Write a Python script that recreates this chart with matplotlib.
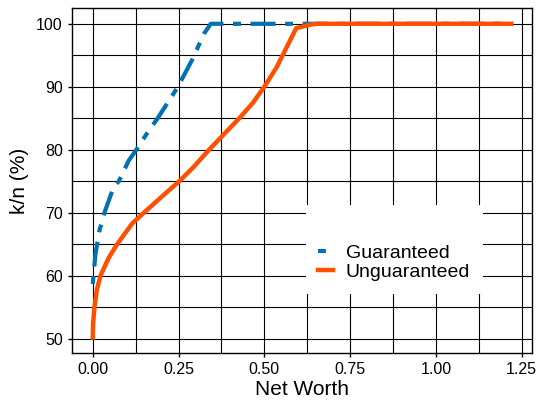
import numpy as np
import matplotlib
matplotlib.use('Agg')
import matplotlib.pyplot as plt
from matplotlib.ticker import MultipleLocator, FormatStrFormatter

# net worth vs k/n for the two contract types
guar_x = [0.0, 0.008, 0.0196, 0.034, 0.061, 0.076, 0.105, 0.127, 0.164, 0.188,
          0.247, 0.29, 0.324, 0.344, 1.22]
guar_y = [58.7, 63.5, 67.2, 70.0, 74.1, 75.0, 78.3, 80.0, 83.1, 84.9,
          89.9, 94.3, 98.4, 100.0, 100.0]

unguar_x = [0.0, 0.001, 0.005, 0.012, 0.0225, 0.047, 0.071, 0.115, 0.149, 0.20,
            0.252, 0.291, 0.339, 0.383, 0.427, 0.466, 0.50, 0.536, 0.593,
            0.637, 0.655, 1.22]
unguar_y = [50.2, 52.5, 55.0, 57.8, 60.0, 62.9, 65.0, 68.3, 70.0, 72.5,
            75.0, 77.1, 80.0, 82.5, 85.0, 87.4, 90.0, 93.1, 99.3,
            99.9, 100.0, 100.0]

plt.rcParams['font.family'] = ['Liberation Sans', 'DejaVu Sans']

fig = plt.figure(figsize=(5.36, 4.05), dpi=100)
ax = fig.add_axes([0.134, 0.128, 0.859, 0.852])

ax.plot(guar_x, guar_y, color='#0072B2', lw=3,
        linestyle=(0, (1.9, 2.3, 6.0, 2.3)), label='Guaranteed')
ax.plot(unguar_x, unguar_y, color='#FF5000', lw=3.2, label='Unguaranteed')

ax.xaxis.set_major_locator(MultipleLocator(0.25))
ax.xaxis.set_minor_locator(MultipleLocator(0.125))
ax.xaxis.set_major_formatter(FormatStrFormatter('%.2f'))
ax.yaxis.set_major_locator(MultipleLocator(10))
ax.yaxis.set_minor_locator(MultipleLocator(5))

ax.grid(which='both', color='black', lw=0.8)
ax.set_axisbelow(True)
ax.tick_params(which='major', direction='out', length=3, width=1, labelsize=11.5)
ax.tick_params(which='minor', length=0)
for s in ax.spines.values():
    s.set_color('black')
    s.set_linewidth(1)

ax.set_xlabel('Net Worth', fontsize=15, labelpad=2)
ax.set_ylabel('k/n (%)', fontsize=15, labelpad=5)

leg = ax.legend(loc='center', bbox_to_anchor=(0.70, 0.30), fontsize=14,
                title=' ', title_fontsize=19, frameon=True, framealpha=1,
                edgecolor='white', fancybox=False, handlelength=0.75,
                handletextpad=0.65, labelspacing=0.1, borderpad=0.65)
leg.get_frame().set_linewidth(0)

fig.savefig('out.png', dpi=100)
